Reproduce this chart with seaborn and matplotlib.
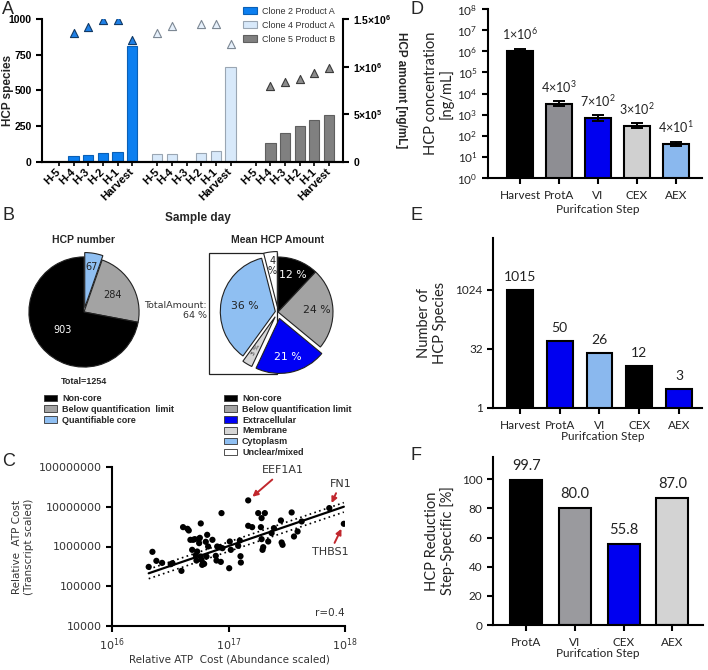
import numpy as np
import matplotlib
matplotlib.use("Agg")
import matplotlib.pyplot as plt
import matplotlib.patches as mpatches
from matplotlib.ticker import NullLocator
import seaborn as sns

sns.set_theme(style="ticks")
plt.rcParams["font.family"] = ["Liberation Sans", "DejaVu Sans"]
plt.rcParams["axes.linewidth"] = 1.5
plt.rcParams["axes.edgecolor"] = "black"
plt.rcParams["xtick.major.width"] = 1.5
plt.rcParams["ytick.major.width"] = 1.5
plt.rcParams["xtick.major.size"] = 4
plt.rcParams["ytick.major.size"] = 4
plt.rcParams["xtick.color"] = "black"
plt.rcParams["ytick.color"] = "black"

# ---- data: A (sample days per clone) ----
days = ["H-5", "H-4", "H-3", "H-2", "H-1", "Harvest"]
clone_names = ["Clone 2 Product A", "Clone 4 Product A", "Clone 5 Product B"]
species_c2 = [0, 44, 52, 61, 68, 808]
species_c4 = [54, 59, 0, 66, 75, 663]
species_c5 = [0, 133, 201, 253, 295, 328]
amount_c2 = [np.nan, 1.35e6, 1.42e6, 1.49e6, 1.49e6, 1.28e6]
amount_c4 = [1.35e6, 1.43e6, np.nan, 1.45e6, 1.45e6, 1.24e6]
amount_c5 = [np.nan, 0.80e6, 0.84e6, 0.87e6, 0.93e6, 0.99e6]

# ---- data: B (pies) ----
num_labels = ["Non-core", "Below quantification  limit", "Quantifiable core"]
num_values = [903, 284, 67]
amt_labels = ["Non-core", "Below quantification limit", "Extracellular",
              "Membrane", "Cytoplasm", "Unclear/mixed"]
amt_values = [12, 24, 21, 3, 36, 4]

# ---- data: C (log10 of relative ATP cost) ----
atp_abund_log = [16.315, 16.347, 16.381, 16.430, 16.504, 16.519, 16.596, 16.610,
                 16.648, 16.659, 16.673, 16.688, 16.696, 16.711, 16.719, 16.725,
                 16.731, 16.745, 16.748, 16.754, 16.762, 16.762, 16.768, 16.774,
                 16.782, 16.791, 16.805, 16.811, 16.817, 16.825, 16.862, 16.891,
                 16.897, 16.903, 16.926, 16.934, 16.940, 16.948, 17.006, 17.011,
                 17.020, 17.083, 17.097, 17.103, 17.106, 17.169, 17.169, 17.203,
                 17.255, 17.278, 17.284, 17.284, 17.292, 17.298, 17.312, 17.341,
                 17.370, 17.390, 17.450, 17.456, 17.464, 17.542, 17.562, 17.593,
                 17.628, 17.865, 17.990]
atp_trans_log = [5.487, 5.866, 5.639, 5.588, 5.555, 5.580, 5.387, 6.487,
                 6.445, 6.403, 6.168, 5.916, 6.168, 6.185, 5.782, 5.647,
                 5.874, 6.185, 6.084, 6.218, 6.580, 5.748, 5.664, 5.538,
                 5.580, 5.563, 6.118, 5.748, 6.294, 6.000, 6.168, 5.765,
                 5.647, 6.000, 5.983, 5.613, 6.840, 5.958, 5.454, 6.126,
                 5.916, 6.017, 6.151, 5.756, 5.597, 7.160, 6.521, 6.487,
                 6.840, 6.487, 6.714, 6.185, 5.916, 5.983, 6.840, 6.126,
                 6.336, 6.462, 6.655, 6.101, 6.042, 6.857, 6.252, 6.378,
                 6.630, 6.966, 6.571]

# ---- data: D, E, F ----
steps = ["Harvest", "ProtA", "VI", "CEX", "AEX"]
conc = [1.07e6, 3.3e3, 6.9e2, 3.0e2, 41]
conc_lo = [0.93e6, 2.6e3, 5.1e2, 2.4e2, 33]
conc_hi = [1.23e6, 4.5e3, 9.6e2, 4.0e2, 52]
conc_mant = ["1", "4", "7", "3", "4"]
conc_exp = ["6", "3", "2", "2", "1"]
n_species = [1015, 50, 26, 12, 3]
red_steps = ["ProtA", "VI", "CEX", "AEX"]
reduction = [99.7, 80.0, 55.8, 87.0]

W, H = 708, 670
LATO = ["Lato", "DejaVu Sans"]


def box(x0, y0, x1, y1):
    return [x0 / W, 1 - y1 / H, (x1 - x0) / W, (y1 - y0) / H]


fig = plt.figure(figsize=(7.08, 6.70), dpi=100)

# ================= A =================
axA = fig.add_axes(box(42, 19, 343, 162))
axA2 = axA.twinx()
gap = 6.72
bar_fc = ["#0c7ff0", "#d8e9fa", "#808080"]
bar_ec = ["#0a5fb5", "#9aa6b3", "#5f5f5f"]
tri_fc = ["#1f80e6", "#e6f0fb", "#8c8c8c"]
tri_ec = ["#123a66", "#7d8894", "#3c3c3c"]
all_pos, all_lab = [], []
for i, (name, sp, am) in enumerate(zip(clone_names,
                                        [species_c2, species_c4, species_c5],
                                        [amount_c2, amount_c4, amount_c5])):
    pos = np.arange(len(days)) + i * gap
    axA.bar(pos, sp, width=0.7, color=bar_fc[i], edgecolor=bar_ec[i],
            linewidth=0.8, label=name)
    sns.scatterplot(x=pos, y=am, ax=axA2, marker="^", s=34, color=tri_fc[i],
                    edgecolor=tri_ec[i], linewidth=0.8, zorder=3)
    all_pos += list(pos)
    all_lab += days
axA.set_xlim(-1.16, 19.4)
axA.set_ylim(0, 1000)
axA2.set_ylim(0, 1.5e6)
axA.set_xticks(all_pos)
axA.set_xticklabels(all_lab, rotation=45, ha="right", va="center",
                    rotation_mode="anchor", fontsize=8, fontweight="bold")
axA.tick_params(axis="x", length=3, width=1.2, pad=3)
axA.set_yticks([0, 250, 500, 750, 1000])
axA.set_yticklabels(["0", "250", "500", "750", "1000"], fontsize=7.5,
                    fontweight="bold")
axA2.set_yticks([0, 5e5, 1e6, 1.5e6])
axA2.set_yticklabels(["0", r"$\mathdefault{5{\times}10^{5}}$",
                      r"$\mathdefault{1{\times}10^{6}}$",
                      r"$\mathdefault{1.5{\times}10^{6}}$"],
                     fontsize=7.5, fontweight="bold")
for a in (axA, axA2):
    a.spines["top"].set_visible(False)
axA.spines["right"].set_visible(False)
axA2.spines["left"].set_visible(False)
axA.set_ylabel("HCP species", fontsize=8.5, fontweight="bold",
               ha="center", va="center", rotation_mode="default")
axA.yaxis.set_label_coords(-0.113, 0.5)
axA2.set_ylabel("HCP amount [ng/mL]", fontsize=8.5, fontweight="bold",
                rotation=270, ha="center", va="center", rotation_mode="default")
axA2.yaxis.set_label_coords(1.193, 0.5)
axA.set_xlabel("Sample day", fontsize=8.5, fontweight="bold",
               ha="center", va="center")
axA.xaxis.set_label_coords(0.518, -0.39)
fig.legend(*axA.get_legend_handles_labels(), loc="upper left",
           bbox_to_anchor=(243 / W, 1 - 7 / H), frameon=False, fontsize=6.5,
           handlelength=1.6, handleheight=0.8, labelspacing=0.55,
           handletextpad=0.5, borderpad=0, borderaxespad=0, labelcolor="#333")

# ================= B =================
pie_ec = dict(edgecolor="#222", linewidth=0.8)
num_colors = ["black", "#a3a3a3", "#8fbff2"]
axB1 = fig.add_axes(box(84 - 65, 312 - 65, 84 + 65, 312 + 65))
w1, _ = axB1.pie(num_values[::-1], colors=num_colors[::-1], startangle=90,
                 counterclock=False, explode=[0.08, 0, 0], wedgeprops=pie_ec)
axB1.set_xlim(-1.18, 1.18)
axB1.set_ylim(-1.18, 1.18)


def wedge_text(ax, w, txt, frac, color, size=7.5, **kw):
    ang = np.deg2rad((w.theta1 + w.theta2) / 2)
    cx, cy = w.center
    ax.text(cx + w.r * frac * np.cos(ang), cy + w.r * frac * np.sin(ang), txt,
            ha="center", va="center", color=color, fontsize=size,
            family="DejaVu Sans", **kw)


for w, v, f, c in zip(w1, num_values[::-1], [0.75, 0.6, 0.5],
                      ["#222", "#222", "white"]):
    wedge_text(axB1, w, str(v), f, c, size=7)

amt_colors = ["black", "#a3a3a3", "#0000f5", "#d6d6d6", "#8fbff2", "white"]
axB2 = fig.add_axes(box(278 - 75, 312 - 75, 278 + 75, 312 + 75))
w2, _ = axB2.pie(amt_values, colors=amt_colors, startangle=90,
                 counterclock=False, explode=[0, 0, 0.12, 0.1, 0.05, 0.1],
                 wedgeprops=pie_ec)
axB2.set_xlim(-1.364, 1.364)
axB2.set_ylim(-1.364, 1.364)
axB2.add_patch(mpatches.Rectangle((-1.255, -1.127), 1.235, 2.2,
                                  facecolor="white", edgecolor="#222",
                                  linewidth=0.9, zorder=0.5))
amt_fracs = [0.72, 0.71, 0.72, 0.7, 0.56, 0.75]
amt_tcol = ["white", "#222", "white", "#222", "#222", "#222"]
for w, v, f, c in zip(w2, amt_values, amt_fracs, amt_tcol):
    if v == 3:
        wedge_text(axB2, w, f"{v} %", f, c, size=4.5, rotation=60)
    elif v == 4:
        wedge_text(axB2, w, f"{v}\n%", f, c, size=7, linespacing=1.0)
    else:
        wedge_text(axB2, w, f"{v} %", f, c, size=7.8)
axB2.text(-1.30, 0.03, "TotalAmount:\n64 %", ha="right", va="center",
          fontsize=6.8, family="DejaVu Sans", color="#333", clip_on=False,
          multialignment="right")

fig.text(84 / W, 1 - 240 / H, "HCP number", ha="center", va="center",
         fontsize=7.5, fontweight="bold")
fig.text(278 / W, 1 - 240 / H, "Mean HCP Amount", ha="center", va="center",
         fontsize=7.5, fontweight="bold")
fig.text(84 / W, 1 - 381 / H, "Total=1254", ha="center", va="center",
         fontsize=6.5, fontweight="bold")
leg_kw = dict(loc="upper left", frameon=False, handlelength=1.45,
              handleheight=0.75, labelspacing=0.2, handletextpad=0.55,
              borderpad=0, borderaxespad=0, prop=dict(weight="bold", size=6.5))
fig.legend([mpatches.Patch(facecolor=c, edgecolor="#333", lw=0.6) for c in num_colors],
           num_labels, bbox_to_anchor=(44 / W, 1 - 394 / H), **leg_kw)
fig.legend([mpatches.Patch(facecolor=c, edgecolor="#333", lw=0.6) for c in amt_colors],
           amt_labels, bbox_to_anchor=(224 / W, 1 - 394 / H), **leg_kw)

# ================= C =================
axC = fig.add_axes(box(112, 467, 345, 626))
X = 10 ** np.array(atp_abund_log)
Y = 10 ** np.array(atp_trans_log)
sns.scatterplot(x=X, y=Y, ax=axC, color="black", s=20, edgecolor="none", zorder=3)
# linear regression through the origin on raw values, with 95% CI
n = len(X)
slope = np.sum(X * Y) / np.sum(X ** 2)
s_res = np.sqrt(np.sum((Y - slope * X) ** 2) / (n - 1))
se_slope = s_res / np.sqrt(np.sum(X ** 2))
xs = np.logspace(np.log10(X.min()), np.log10(X.max()), 50)
axC.plot(xs, slope * xs, color="black", lw=1.6)
for sgn in (1, -1):
    axC.plot(xs, (slope + sgn * 1.997 * se_slope) * xs, color="black", lw=1.2,
             ls=(0, (1, 2)))
axC.set_xscale("log")
axC.set_yscale("log")
axC.set_xlim(1e16, 1e18)
axC.set_ylim(1e4, 1e8)
axC.set_xticks([1e16, 1e17, 1e18])
axC.set_yticks([1e4, 1e5, 1e6, 1e7, 1e8])
axC.set_yticklabels(["10000", "100000", "1000000", "10000000", "100000000"])
axC.xaxis.set_minor_locator(NullLocator())
axC.yaxis.set_minor_locator(NullLocator())
axC.tick_params(labelsize=8, labelcolor="#333", labelfontfamily="DejaVu Sans")
sns.despine(ax=axC)
red = "#c1272d"
arr = dict(arrowstyle="-|>", color=red, lw=1.4, mutation_scale=8,
           shrinkA=1, shrinkB=4)
tkw = dict(textcoords="offset points", fontsize=8, color="#333",
           family="DejaVu Sans", arrowprops=arr, ha="center")
axC.annotate("EEF1A1", xy=(X[45], Y[45]), xytext=(25, 18), va="bottom", **tkw)
axC.annotate("FN1", xy=(X[65], Y[65]), xytext=(8, 14), va="bottom", **tkw)
axC.annotate("THBS1", xy=(X[66], Y[66]), xytext=(-10, -17), va="top", **tkw)
axC.text(0.936, 0.08, "r=0.4", transform=axC.transAxes, ha="center",
         va="center", fontsize=7.5, color="#333", family="DejaVu Sans")
axC.set_ylabel("Relative  ATP Cost\n(Transcript scaled)", fontsize=7.5,
               color="#333", family="DejaVu Sans", ha="center", va="center",
               rotation_mode="default")
axC.yaxis.set_label_coords(-0.382, 0.5)
axC.set_xlabel("Relative ATP  Cost (Abundance scaled)", fontsize=7.5,
               color="#333", family="DejaVu Sans", ha="center", va="center")
axC.xaxis.set_label_coords(0.506, -0.208)

# ================= D =================
axD = fig.add_axes(box(488, 9, 702, 178))
sns.barplot(x=steps, y=conc, hue=steps, ax=axD, legend=False, saturation=1,
            palette=["black", "#8e8e93", "#0000f0", "#d0d0d0", "#8ab8ee"],
            edgecolor="black", linewidth=1.5, width=0.67)
axD.set_yscale("log")
axD.errorbar(range(len(steps)), conc,
             yerr=[np.array(conc) - np.array(conc_lo), np.array(conc_hi) - np.array(conc)],
             fmt="none", ecolor="black", elinewidth=1.4, capsize=4.3, capthick=1.4,
             zorder=4)
axD.set_ylim(1, 1e8)
axD.set_xlim(-0.82, 4.67)
axD.set_yticks([10.0 ** k for k in range(9)])
axD.set_yticklabels([r"$\mathdefault{10^{%d}}$" % k for k in range(9)])
axD.yaxis.set_minor_locator(NullLocator())
for cont, m, e in zip(axD.containers, conc_mant, conc_exp):
    axD.bar_label(cont, labels=[r"$\mathdefault{%s{\times}10^{%s}}$" % (m, e)],
                  padding=6.5, fontsize=9, family=LATO, color="#222")

# ================= E =================
axE = fig.add_axes(box(493, 238, 702, 408))
sns.barplot(x=steps, y=n_species, hue=steps, ax=axE, legend=False, saturation=1,
            palette=["black", "#0000f0", "#8ab8ee", "black", "#0000f0"],
            edgecolor="black", linewidth=1.5, width=0.65)
axE.set_yscale("log", base=2)
axE.set_ylim(1, 2 ** 14.4)
axE.set_xlim(-0.68, 4.58)
axE.set_yticks([1, 32, 1024])
axE.set_yticklabels(["1", "32", "1024"])
axE.yaxis.set_minor_locator(NullLocator())
for cont, lab in zip(axE.containers, n_species):
    axE.bar_label(cont, labels=[str(lab)], padding=5, fontsize=10,
                  family=LATO, color="#222")

# ================= F =================
axF = fig.add_axes(box(493, 457, 703, 625))
sns.barplot(x=red_steps, y=reduction, hue=red_steps, ax=axF, legend=False,
            saturation=1, palette=["black", "#9a9a9e", "#0000f0", "#d3d3d3"],
            edgecolor="black", linewidth=1.5, width=0.66)
axF.set_ylim(0, 115.3)
axF.set_xlim(-0.68, 3.63)
axF.set_yticks([0, 20, 40, 60, 80, 100])
for cont, lab in zip(axF.containers, reduction):
    axF.bar_label(cont, labels=[f"{lab:.1f}"], padding=5, fontsize=10.5,
                  family=LATO, color="#222")

for ax, ylab, ycoord, xcoord in [
        (axD, "HCP concentration\n[ng/mL]", -0.229, (0.514, -0.185)),
        (axE, "Number of\nHCP Species", -0.292, (0.526, -0.165)),
        (axF, "HCP Reduction\nStep-Specific [%]", -0.252, (0.5, -0.167))]:
    sns.despine(ax=ax)
    ax.tick_params(labelsize=8.5, labelcolor="#222", labelfontfamily="Lato")
    ax.tick_params(axis="x", length=4.5, pad=4)
    ax.set_xlabel("Purifcation Step", fontsize=8.5, family=LATO, color="#222",
                  ha="center", va="center")
    ax.xaxis.set_label_coords(*xcoord)
    ax.set_ylabel(ylab, fontsize=10.5, family=LATO, color="#222", ha="center",
                  va="center", rotation_mode="default", linespacing=1.1)
    ax.yaxis.set_label_coords(ycoord, 0.5)

# panel letters
for letter, x, y in [("A", 2, 1), ("B", 2, 207), ("C", 2, 453),
                     ("D", 410, 1), ("E", 410, 207), ("F", 410, 447)]:
    fig.text(x / W, 1 - y / H, letter, ha="left", va="top", fontsize=13)

fig.savefig("out.png", dpi=100)
